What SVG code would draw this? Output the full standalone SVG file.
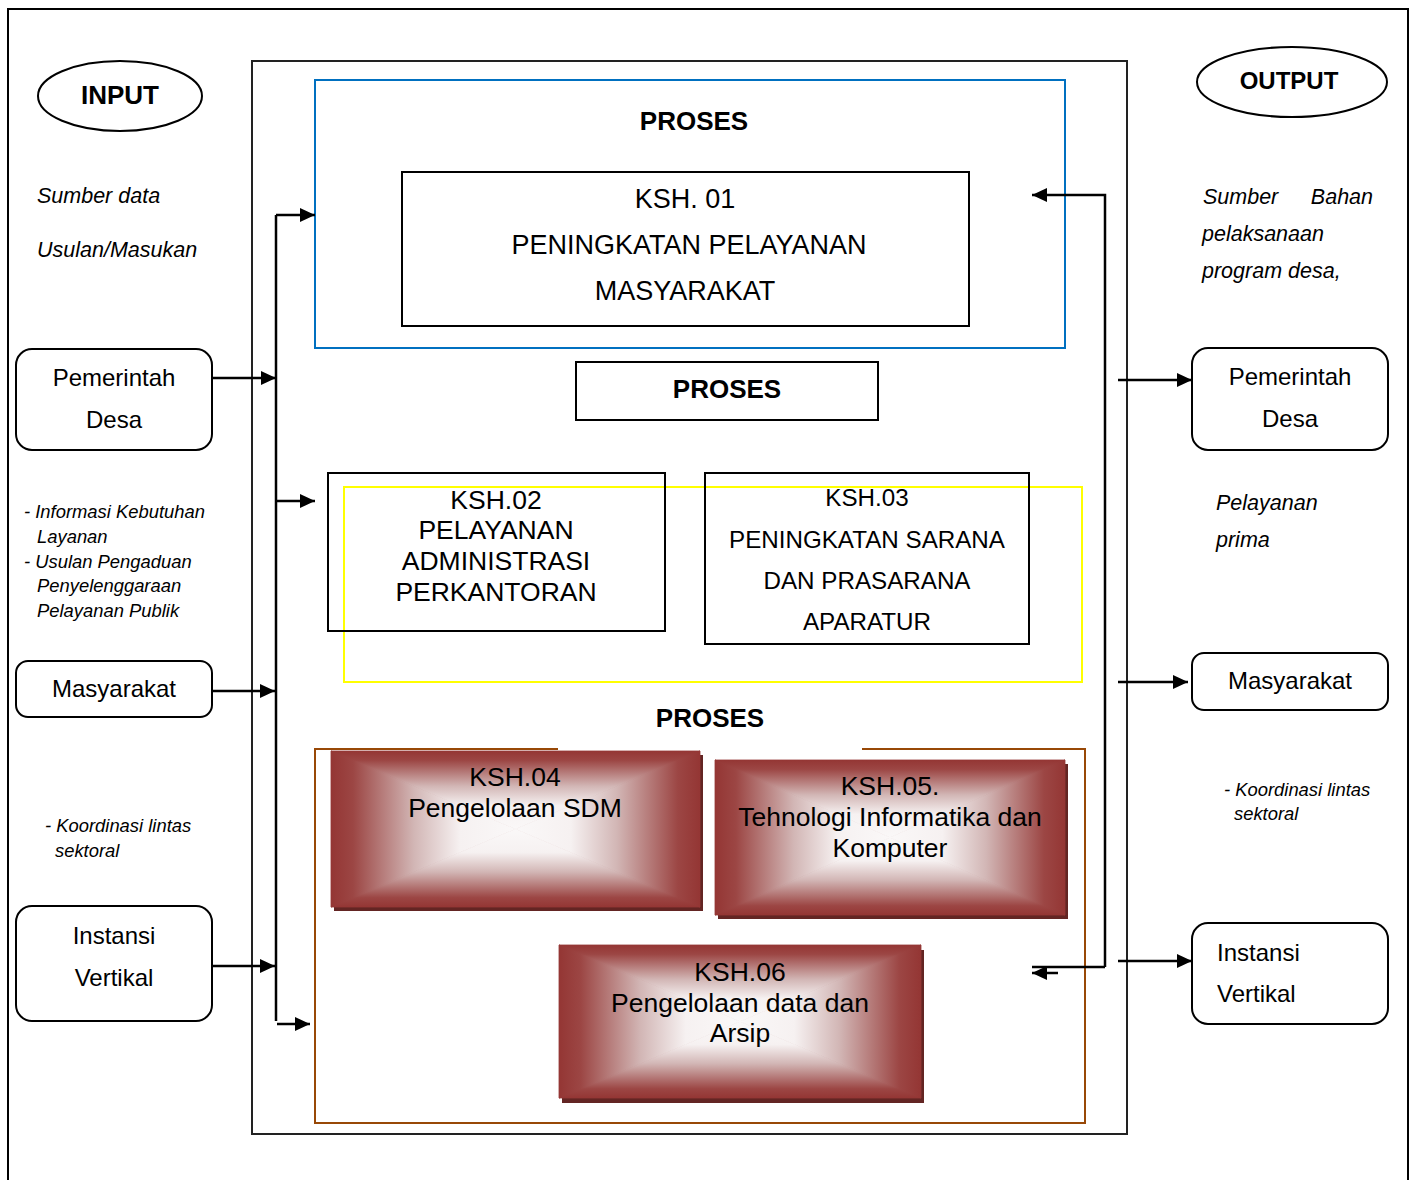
<svg xmlns="http://www.w3.org/2000/svg" width="1414" height="1180" viewBox="0 0 1414 1180">
<style>
text{font-family:"Liberation Sans",Arial,sans-serif;fill:#000}
.b{font-weight:bold;font-size:26px;text-anchor:middle}
.n{font-size:24px;text-anchor:middle}
.nl{font-size:24px}
.it{font-style:italic;font-size:21.5px}
.its{font-style:italic;font-size:18.4px}
.k{font-size:26.5px;text-anchor:middle}
.k1{font-size:27px;text-anchor:middle}
.k3{font-size:24.2px;text-anchor:middle}
.box{fill:#fff;stroke:#000;stroke-width:2}
.rbox{fill:#fff;stroke:#000;stroke-width:2}
.ln{fill:none;stroke:#000;stroke-width:2.5}
.ar{fill:none;stroke:#000;stroke-width:2.5;marker-end:url(#ah)}
.base{fill:#943634}
.sh{fill:#632523}
.pt{fill:url(#gt);stroke:url(#gt);stroke-width:0.8}
.pb{fill:url(#gb);stroke:url(#gb);stroke-width:0.8}
.pl{fill:url(#gl);stroke:url(#gl);stroke-width:0.8}
.pr{fill:url(#gr);stroke:url(#gr);stroke-width:0.8}
</style>
<defs>
<marker id="ah" markerUnits="userSpaceOnUse" markerWidth="16" markerHeight="14" refX="15" refY="7" orient="auto">
<path d="M0,0 L15,7 L0,14 Z" fill="#000"/>
</marker>
<linearGradient id="gt" x1="0" y1="0" x2="0" y2="1">
<stop offset="0" stop-color="#943634"/>
<stop offset="0.12" stop-color="#9c4644"/>
<stop offset="0.45" stop-color="#d2b6b5"/>
<stop offset="0.7" stop-color="#f6f1f1"/>
<stop offset="1" stop-color="#faf8f8"/>
</linearGradient>
<linearGradient id="gb" href="#gt" x1="0" y1="1" x2="0" y2="0"/>
<linearGradient id="gl" href="#gt" x1="0" y1="0" x2="1" y2="0"/>
<linearGradient id="gr" href="#gt" x1="1" y1="0" x2="0" y2="0"/>
</defs>

<rect x="8" y="9" width="1400" height="1185" fill="none" stroke="#000" stroke-width="2"/>

<g id="main-box"><rect x="252" y="61" width="875" height="1073" fill="none" stroke="#222" stroke-width="2"/></g>

<g id="proses-1">
<rect x="315" y="80" width="750" height="268" fill="none" stroke="#0070c0" stroke-width="2"/>
<text class="b" x="694" y="130">PROSES</text>
</g>
<g id="ksh01">
<rect class="box" x="402" y="172" width="567" height="154"/>
<text class="k1" x="685" y="208">KSH. 01</text>
<text class="k1" x="689" y="254">PENINGKATAN PELAYANAN</text>
<text class="k1" x="685" y="300">MASYARAKAT</text>
</g>
<g id="proses-2">
<rect class="box" x="576" y="362" width="302" height="58"/>
<text class="b" x="727" y="398">PROSES</text>
</g>

<g id="proses-yellow"><rect x="344" y="487" width="738" height="195" fill="none" stroke="#ffff00" stroke-width="2"/></g>
<g id="ksh02">
<rect x="328" y="473" width="337" height="158" fill="none" stroke="#000" stroke-width="2"/>
<text class="k" x="496" y="509">KSH.02</text>
<text class="k" x="496" y="539">PELAYANAN</text>
<text class="k" x="496" y="570">ADMINISTRASI</text>
<text class="k" x="496" y="601">PERKANTORAN</text>
</g>
<g id="ksh03">
<rect x="705" y="473" width="324" height="171" fill="none" stroke="#000" stroke-width="2"/>
<text class="k3" x="867" y="506">KSH.03</text>
<text class="k3" x="867" y="548">PENINGKATAN SARANA</text>
<text class="k3" x="867" y="589">DAN PRASARANA</text>
<text class="k3" x="867" y="630">APARATUR</text>
</g>

<g id="proses-3">
<text class="b" x="710" y="727">PROSES</text>
<path d="M558,749 H315 V1123 H1085 V749 H862" fill="none" stroke="#984807" stroke-width="2"/>
</g>
<g id="ksh04">
<rect class="sh" x="334" y="755" width="369" height="156"/>
<rect class="base" x="331" y="751" width="369" height="156"/>
<polygon class="pt" points="331,751 700,751 515.5,829"/>
<polygon class="pb" points="331,907 700,907 515.5,829"/>
<polygon class="pl" points="331,751 331,907 515.5,829"/>
<polygon class="pr" points="700,751 700,907 515.5,829"/>
<text class="k" x="515" y="786">KSH.04</text>
<text class="k" x="515" y="817">Pengelolaan SDM</text>
</g>
<g id="ksh05">
<rect class="sh" x="718" y="764" width="350" height="155"/>
<rect class="base" x="715" y="760" width="350" height="155"/>
<polygon class="pt" points="715,760 1065,760 890,837.5"/>
<polygon class="pb" points="715,915 1065,915 890,837.5"/>
<polygon class="pl" points="715,760 715,915 890,837.5"/>
<polygon class="pr" points="1065,760 1065,915 890,837.5"/>
<text class="k" x="890" y="795">KSH.05.</text>
<text class="k" x="890" y="826">Tehnologi Informatika dan</text>
<text class="k" x="890" y="857">Komputer</text>
</g>
<g id="ksh06">
<rect class="sh" x="562" y="950" width="362" height="153"/>
<rect class="base" x="559" y="945" width="362" height="153"/>
<polygon class="pt" points="559,945 921,945 740,1021.5"/>
<polygon class="pb" points="559,1098 921,1098 740,1021.5"/>
<polygon class="pl" points="559,945 559,1098 740,1021.5"/>
<polygon class="pr" points="921,945 921,1098 740,1021.5"/>
<text class="k" x="740" y="981">KSH.06</text>
<text class="k" x="740" y="1012">Pengelolaan data dan</text>
<text class="k" x="740" y="1042">Arsip</text>
</g>

<g id="input">
<ellipse cx="120" cy="96" rx="82" ry="35" fill="#fff" stroke="#000" stroke-width="2"/>
<text class="b" x="120" y="104">INPUT</text>
</g>
<g id="input-notes">
<text class="it" x="37" y="203">Sumber data</text>
<text class="it" x="37" y="257">Usulan/Masukan</text>
<text class="its" x="24" y="518">-  Informasi Kebutuhan</text>
<text class="its" x="37" y="543">Layanan</text>
<text class="its" x="24" y="568">-  Usulan Pengaduan</text>
<text class="its" x="37" y="592">Penyelenggaraan</text>
<text class="its" x="37" y="617">Pelayanan Publik</text>
<text class="its" x="45" y="832">- Koordinasi lintas</text>
<text class="its" x="55" y="857">sektoral</text>
</g>
<g id="in-pemdes">
<rect class="rbox" x="16" y="349" width="196" height="101" rx="16"/>
<text class="n" x="114" y="386">Pemerintah</text>
<text class="n" x="114" y="428">Desa</text>
</g>
<g id="in-masy">
<rect class="rbox" x="16" y="661" width="196" height="56" rx="12"/>
<text class="n" x="114" y="697">Masyarakat</text>
</g>
<g id="in-instansi">
<rect class="rbox" x="16" y="906" width="196" height="115" rx="16"/>
<text class="n" x="114" y="944">Instansi</text>
<text class="n" x="114" y="986">Vertikal</text>
</g>

<g id="output">
<ellipse cx="1292" cy="82" rx="95" ry="35" fill="#fff" stroke="#000" stroke-width="2"/>
<text class="b" x="1289" y="89" style="font-size:24px">OUTPUT</text>
</g>
<g id="output-notes">
<text class="it" x="1203" y="204">Sumber</text>
<text class="it" x="1373" y="204" style="text-anchor:end">Bahan</text>
<text class="it" x="1202" y="241">pelaksanaan</text>
<text class="it" x="1202" y="278">program desa,</text>
<text class="it" x="1216" y="510">Pelayanan</text>
<text class="it" x="1216" y="547">prima</text>
<text class="its" x="1224" y="796">- Koordinasi lintas</text>
<text class="its" x="1234" y="820">sektoral</text>
</g>
<g id="out-pemdes">
<rect class="rbox" x="1192" y="348" width="196" height="102" rx="16"/>
<text class="n" x="1290" y="385">Pemerintah</text>
<text class="n" x="1290" y="427">Desa</text>
</g>
<g id="out-masy">
<rect class="rbox" x="1192" y="653" width="196" height="57" rx="12"/>
<text class="n" x="1290" y="689">Masyarakat</text>
</g>
<g id="out-instansi">
<rect class="rbox" x="1192" y="923" width="196" height="101" rx="16"/>
<text class="nl" x="1217" y="961">Instansi</text>
<text class="nl" x="1217" y="1002">Vertikal</text>
</g>

<g id="connectors">
<path class="ln" d="M276,215 V1021"/>
<path class="ar" d="M276,215 H315"/>
<path class="ar" d="M212,378 H276"/>
<path class="ar" d="M276,501 H315"/>
<path class="ar" d="M212,691 H275"/>
<path class="ar" d="M212,966 H275"/>
<path class="ar" d="M277,1024 H310"/>
<path class="ar" d="M1105,967 V195 H1032"/>
<path class="ln" d="M1105,967 H1032"/>
<path class="ar" d="M1058,973 H1032"/>
<path class="ar" d="M1118,380 H1192"/>
<path class="ar" d="M1118,682 H1188"/>
<path class="ar" d="M1118,961 H1192"/>
</g>
</svg>
